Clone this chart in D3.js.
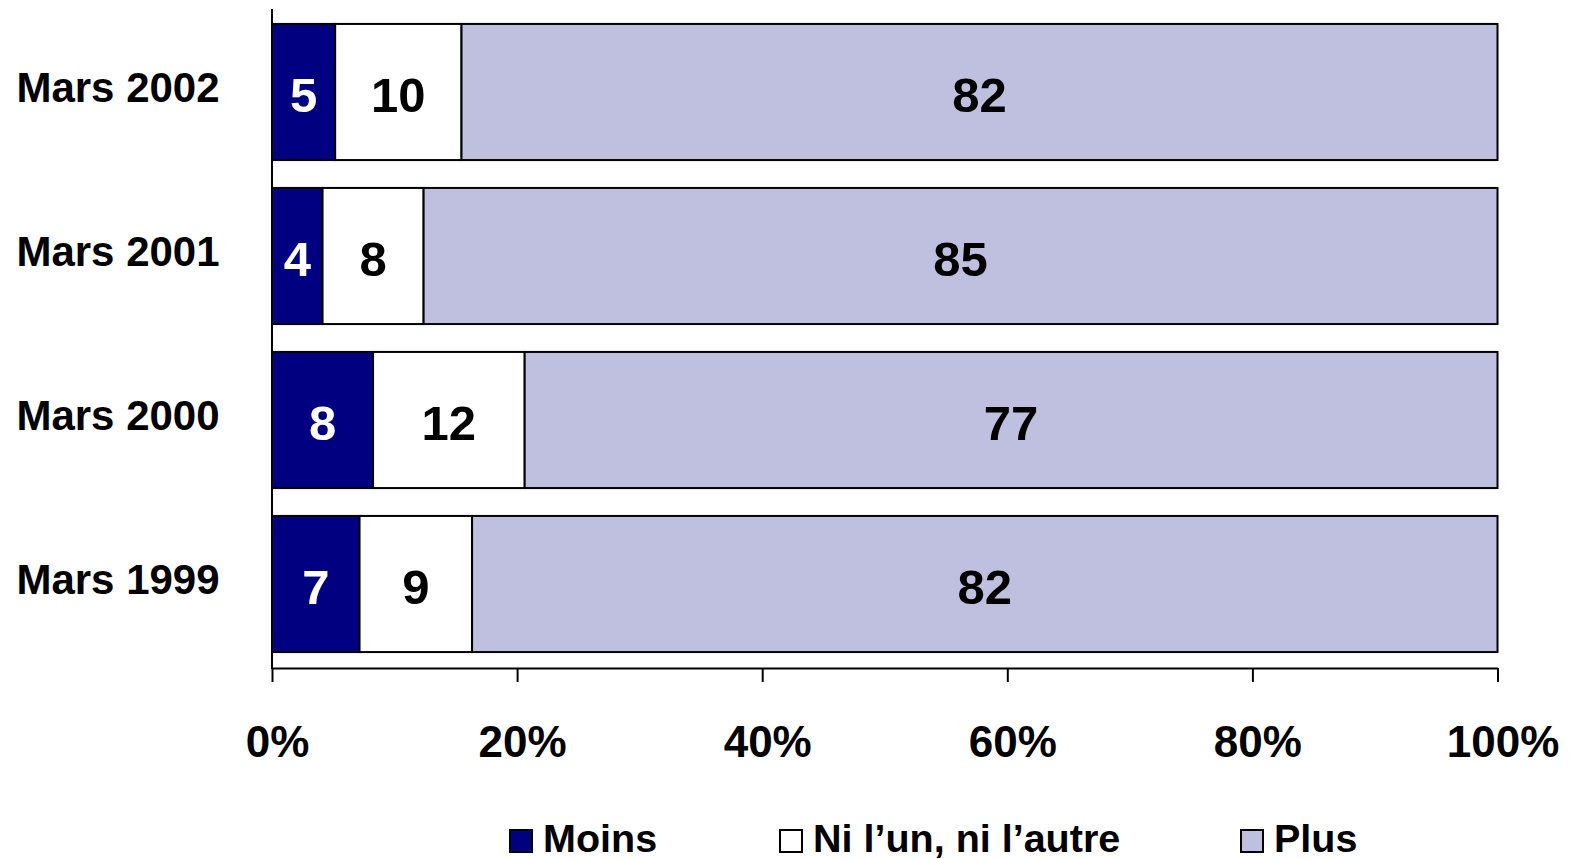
<!DOCTYPE html>
<html>
<head>
<meta charset="utf-8">
<script src="https://cdn.jsdelivr.net/npm/d3@7"></script>
<style>
  body { margin: 0; background: #fff; }
  text { font-family: "Liberation Sans", Arial, sans-serif; font-weight: bold; }
</style>
</head>
<body>
<svg id="chart" width="1572" height="859"></svg>
<script>
// data
var categories = ["Mars 2002", "Mars 2001", "Mars 2000", "Mars 1999"];
var moins = [5, 4, 8, 7];
var niLunNiLautre = [10, 8, 12, 9];
var plus = [82, 85, 77, 82];
var seriesNames = ["Moins", "Ni l\u2019un, ni l\u2019autre", "Plus"];
var tickValues = [0, 0.2, 0.4, 0.6, 0.8, 1];

var keys = ["moins", "ni", "plus"];
var colors = { moins: "#000080", ni: "#FFFFFF", plus: "#BFBFDF" };
var labelColors = { moins: "#FFFFFF", ni: "#000000", plus: "#000000" };

var rows = categories.map(function (c, i) {
  return { cat: c, moins: moins[i], ni: niLunNiLautre[i], plus: plus[i] };
});

var svg = d3.select("#chart");
var axisY = 668;

var x = d3.scaleLinear().domain([0, 1]).range([272, 1497.5]);
var y = d3.scaleBand().domain(categories).range([10, 666])
  .paddingInner(0.17).paddingOuter(0.085);

// each bar is expanded to 100%
var stack = d3.stack().keys(keys).offset(d3.stackOffsetExpand);
var layers = stack(rows);

// bars
var layer = svg.selectAll("g.layer")
  .data(layers)
  .enter().append("g")
  .attr("class", "layer");

layer.selectAll("rect")
  .data(function (d) { return d.map(function (p) { p.key = d.key; return p; }); })
  .enter().append("rect")
  .attr("x", function (d) { return x(d[0]); })
  .attr("y", function (d) { return y(d.data.cat); })
  .attr("width", function (d) { return x(d[1]) - x(d[0]); })
  .attr("height", y.bandwidth())
  .style("fill", function (d) { return colors[d.key]; })
  .style("stroke", "#000")
  .style("stroke-width", 2);

// value labels
layer.selectAll("text")
  .data(function (d) { return d; })
  .enter().append("text")
  .attr("x", function (d) { return (x(d[0]) + x(d[1])) / 2; })
  .attr("y", function (d) { return y(d.data.cat) + y.bandwidth() / 2 + 20; })
  .attr("text-anchor", "middle")
  .style("font-size", "49px")
  .style("fill", function (d) { return labelColors[d.key]; })
  .text(function (d) { return d.data[d.key]; });

// category labels
svg.selectAll("text.cat")
  .data(categories)
  .enter().append("text")
  .attr("class", "cat")
  .attr("x", 118)
  .attr("y", function (d) { return y(d) + y.bandwidth() / 2 + 10; })
  .attr("text-anchor", "middle")
  .style("font-size", "42px")
  .text(function (d) { return d; });

// left axis line
svg.append("line")
  .attr("x1", x(0)).attr("x2", x(0))
  .attr("y1", 9).attr("y2", axisY + 1)
  .style("stroke", "#000")
  .style("stroke-width", 2);

// bottom axis
var xAxis = svg.append("g")
  .attr("transform", "translate(0," + axisY + ")")
  .call(d3.axisBottom(x)
    .tickValues(tickValues)
    .tickFormat(d3.format(".0%"))
    .tickSize(14)
    .tickSizeOuter(0));

xAxis.select(".domain").style("stroke", "#000").style("stroke-width", 2);
xAxis.selectAll(".tick line").style("stroke", "#000").style("stroke-width", 2);
xAxis.selectAll(".tick text")
  .attr("y", 89)
  .attr("dy", 0)
  .attr("x", 5)
  .style("font-size", "44px")
  .style("font-family", "'Liberation Sans', Arial, sans-serif")
  .style("fill", "#000");

// legend
var legendX = [510, 780, 1241];
var legend = svg.selectAll("g.legend")
  .data(seriesNames)
  .enter().append("g")
  .attr("class", "legend")
  .attr("transform", function (d, i) { return "translate(" + legendX[i] + ",830)"; });

legend.append("rect")
  .attr("width", 22)
  .attr("height", 22)
  .style("fill", function (d, i) { return colors[keys[i]]; })
  .style("stroke", "#000")
  .style("stroke-width", 2);

legend.append("text")
  .attr("x", 33)
  .attr("y", 22)
  .style("font-size", "39.5px")
  .text(function (d) { return d; });
</script>
</body>
</html>
